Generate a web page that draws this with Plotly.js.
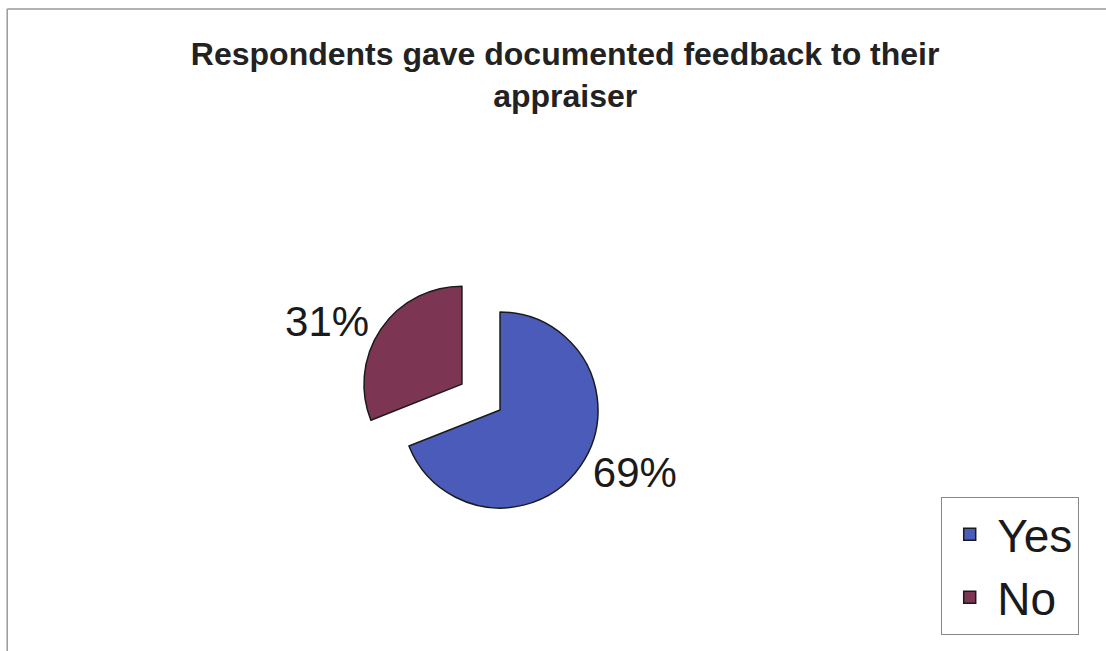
<!DOCTYPE html>
<html>
<head>
<meta charset="utf-8">
<script src="https://cdn.plot.ly/plotly-3.0.1.min.js"></script>
<style>html,body{margin:0;padding:0;background:#fff;}#chart{width:1106px;height:651px;}</style>
</head>
<body>
<div id="chart"></div>
<script>
var categories = ["Yes", "No"];
var values = [69, 31];
var sliceColors = ["#4B5BB9", "#7C3552"];
var pulls = [0, 0.47];
var chartTitle = "Respondents gave documented feedback to their<br>appraiser";

var trace = {
  type: "pie",
  labels: categories,
  values: values,
  sort: false,
  direction: "clockwise",
  rotation: 0,
  pull: pulls,
  marker: {colors: sliceColors, line: {color: "#1a1a1a", width: 1.5}},
  textposition: "outside",
  texttemplate: "%{percent:.0%}",
  textfont: {family: "Liberation Sans, Arial, sans-serif", size: 42, color: "#1a1a1a"},
  domain: {x: [0.3219, 0.5823], y: [0.149, 0.5914]},
  hoverinfo: "label+percent"
};

var layout = {
  width: 1106, height: 651,
  margin: {l: 0, r: 0, t: 0, b: 0},
  paper_bgcolor: "#ffffff",
  title: {
    text: chartTitle,
    font: {family: "Liberation Sans, Arial, sans-serif", size: 32, color: "#222222", weight: "bold"},
    x: 0.511, xanchor: "center",
    y: 0.90, yanchor: "top"
  },
  showlegend: true,
  legend: {
    x: 0.851, xanchor: "left",
    y: 0.2366, yanchor: "top",
    bordercolor: "#888888", borderwidth: 1,
    bgcolor: "#ffffff",
    itemwidth: 45,
    font: {family: "Liberation Sans, Arial, sans-serif", size: 46, color: "#1a1a1a"}
  },
  shapes: [
    {type: "line", xref: "paper", yref: "paper", x0: 0.0065, x1: 1, y0: 0.986, y1: 0.986, line: {color: "#999999", width: 1.5}},
    {type: "line", xref: "paper", yref: "paper", x0: 0.0065, x1: 0.0065, y0: 0, y1: 0.986, line: {color: "#999999", width: 1.5}}
  ]
};

Plotly.newPlot("chart", [trace], layout, {displayModeBar: false, staticPlot: true});
</script>
</body>
</html>
